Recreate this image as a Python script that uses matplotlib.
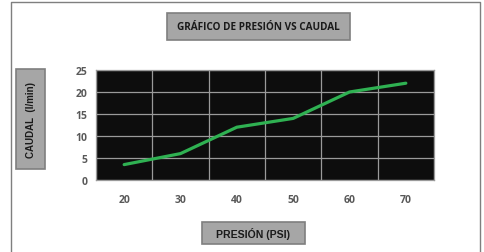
import matplotlib
matplotlib.use('Agg')
import matplotlib.pyplot as plt
from matplotlib.patches import Rectangle

# data
presion = [20, 30, 40, 50, 60, 70]
caudal = [3.5, 6, 12, 14, 20, 22]
x_ticks = [20, 30, 40, 50, 60, 70]
y_ticks = [0, 5, 10, 15, 20, 25]

title = 'GRÁFICO DE PRESIÓN VS CAUDAL'
xlabel = 'PRESIÓN (PSI)'
ylabel = 'CAUDAL  (l/min)'

W, H = 484, 253
plt.rcParams['font.family'] = ['Open Sans', 'DejaVu Sans']

fig = plt.figure(figsize=(W / 100, H / 100), dpi=100)
fig.patch.set_facecolor('white')


def fx(px):
    return px / W


def fy(py):
    return 1 - py / H


# outer frame (left, top, right only; bottom is cut off)
fig.add_artist(plt.Line2D([fx(11), fx(11), fx(480), fx(480)], [0, fy(3), fy(3), 0],
                          transform=fig.transFigure, color='#7f7f7f', lw=1.0))

ax = fig.add_axes([fx(96), fy(181), fx(434 - 96), (181 - 71) / H])
ax.set_facecolor('#0d0d0d')
ax.plot(presion, caudal, color='#2fb152', lw=2.3, solid_capstyle='round', solid_joinstyle='round')
ax.set_xlim(15, 75)
ax.set_ylim(0, 25)
ax.set_xticks(x_ticks)
ax.set_xticks(range(15, 80, 5), minor=True)
ax.set_yticks(y_ticks)
ax.grid(True, which='minor', axis='x', color='#9a9a9a', lw=0.9)
ax.grid(True, which='major', axis='y', color='#9a9a9a', lw=0.9)
ax.set_axisbelow(True)
ax.tick_params(axis='both', which='both', length=0, labelsize=7.5, labelcolor='#595959')
ax.tick_params(axis='x', pad=10)
ax.tick_params(axis='y', pad=6)
for lab in ax.get_xticklabels() + ax.get_yticklabels():
    lab.set_fontweight('bold')
for s in ax.spines.values():
    s.set_color('#9a9a9a')
    s.set_linewidth(0.9)


def label_box(x0, y0, x1, y1, text, rot=0, family='Open Sans', size=7):
    fig.add_artist(Rectangle((fx(x0), fy(y1)), fx(x1 - x0), (y1 - y0) / H,
                             transform=fig.transFigure, facecolor='#a6a6a6',
                             edgecolor='#7f7f7f', lw=1.2))
    fig.text(fx((x0 + x1) / 2), fy((y0 + y1) / 2), text, rotation=rot,
             ha='center', va='center', fontsize=size, fontweight='bold',
             color='#1a1a1a', family=family)


label_box(167, 14, 350, 41, title, size=7.2)
label_box(16, 70, 45, 170, ylabel, rot=90, family='Liberation Sans', size=7)
label_box(202, 223, 305, 245, xlabel, family='Liberation Sans', size=7.6)

fig.savefig('out.png', dpi=100)
